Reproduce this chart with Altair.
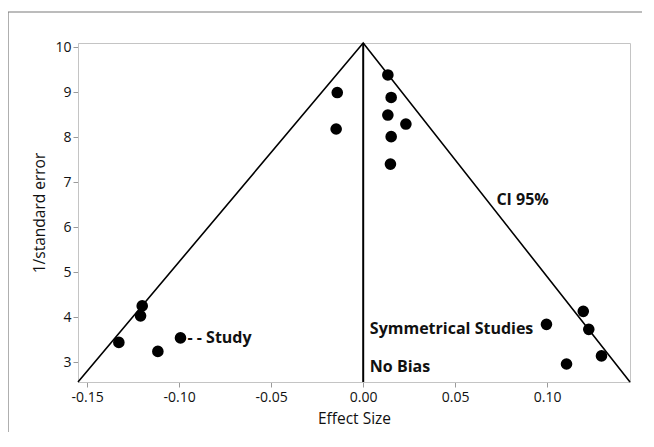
import altair as alt
import pandas as pd

# Study points (effect size, 1/standard error)
effect = [-0.0141, -0.0147, 0.0134, 0.0152, 0.0134, 0.0232, 0.0152, 0.0148,
          -0.1201, -0.1210, -0.1328, -0.1116, -0.0993,
          0.0996, 0.1196, 0.1226, 0.1295, 0.1105]
inv_se = [8.99, 8.18, 9.38, 8.88, 8.49, 8.29, 8.01, 7.40,
          4.25, 4.03, 3.44, 3.24, 3.54,
          3.84, 4.13, 3.73, 3.14, 2.96]

# Funnel (CI 95%) lines
funnel_x = [-0.155, 0.0, 0.145]
funnel_y = [2.56, 10.09, 2.56]

# No-bias line
nobias_x = [0.0]
nobias_y0 = [2.56]
nobias_y1 = [10.09]

# Annotations
ann_text = ["CI 95%", "Symmetrical Studies", "No Bias", "- - Study"]
ann_x = [0.0724, 0.0036, 0.0036, -0.0955]
ann_y = [6.60, 3.73, 2.89, 3.53]

x_ticks = [-0.15, -0.10, -0.05, 0.00, 0.05, 0.10]
y_ticks = [3, 4, 5, 6, 7, 8, 9, 10]

X_DOMAIN = [-0.155, 0.145]
Y_DOMAIN = [2.56, 10.09]

W, H = 552, 339
PAD = {"left": 70, "top": 35, "right": 12, "bottom": 50}
FONT = "Open Sans"

pts = pd.DataFrame({"x": effect, "y": inv_se})
fun = pd.DataFrame({"x": funnel_x, "y": funnel_y, "o": [0, 1, 2]})
nb = pd.DataFrame({"x": nobias_x, "y": nobias_y0, "y2": nobias_y1})
ann = pd.DataFrame({"t": ann_text, "x": ann_x, "y": ann_y})

xs = alt.Scale(domain=X_DOMAIN, nice=False, zero=False)
ys = alt.Scale(domain=Y_DOMAIN, nice=False, zero=False)

xaxis = alt.Axis(values=x_ticks, title="Effect Size", grid=False,
                 labelExpr="replace(format(datum.value, '.2f'), '\u2212', '-')",
                 tickSize=5, labelPadding=3, titlePadding=7)
yaxis = alt.Axis(values=y_ticks, title="1/standard error", grid=False,
                 tickSize=5, labelPadding=2, titlePadding=7)

points = alt.Chart(pts).mark_circle(size=135, color="black", opacity=1).encode(
    x=alt.X("x:Q", scale=xs, axis=xaxis),
    y=alt.Y("y:Q", scale=ys, axis=yaxis),
)

funnel = alt.Chart(fun).mark_line(color="black", strokeWidth=1.6).encode(
    x=alt.X("x:Q", scale=xs), y=alt.Y("y:Q", scale=ys), order="o:O"
)

nobias = alt.Chart(nb).mark_rule(color="black", strokeWidth=2).encode(
    x=alt.X("x:Q", scale=xs), y=alt.Y("y:Q", scale=ys), y2="y2:Q"
)

labels = alt.Chart(ann).mark_text(
    align="left", baseline="middle", fontWeight="bold", fontSize=16,
    font=FONT, color="#111111"
).encode(x=alt.X("x:Q", scale=xs), y=alt.Y("y:Q", scale=ys), text="t:N")

# outer decorative figure frame: only its top and left edges lie inside the page
frame_src = pd.DataFrame({"a": [0]})
frame_top = alt.Chart(frame_src).mark_rule(
    stroke="#7a7a7a", strokeWidth=1.2, clip=False
).encode(x=alt.value(-70), x2=alt.value(W + PAD["right"]), y=alt.value(-31))
frame_left = alt.Chart(frame_src).mark_rule(
    stroke="#7a7a7a", strokeWidth=1.2, clip=False
).encode(x=alt.value(-70), y=alt.value(-31), y2=alt.value(H + PAD["bottom"]))

chart = alt.layer(frame_top, frame_left, funnel, nobias, points, labels).properties(
    width=W, height=H,
    autosize=alt.AutoSizeParams(type="none"),
    padding=PAD,
).configure_view(
    stroke="#c4c4c4", strokeWidth=1
).configure_axis(
    labelFont=FONT, titleFont=FONT, labelFontSize=14, titleFontSize=15.5,
    titleFontWeight="normal", labelColor="#111111", titleColor="#111111",
    domainColor="#c4c4c4", tickColor="#9a9a9a"
)

chart.save("out.html", embed_options={"renderer": "svg", "actions": False})
